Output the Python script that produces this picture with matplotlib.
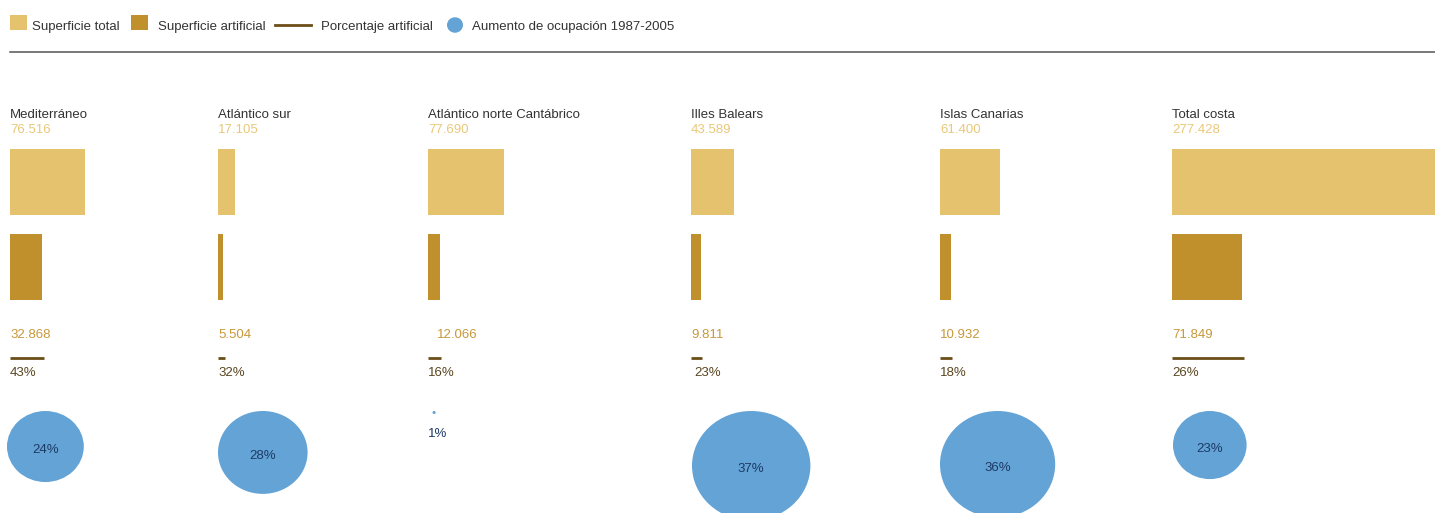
import numpy as np
import matplotlib
matplotlib.use("Agg")
import matplotlib.pyplot as plt
from matplotlib.patches import Ellipse, Rectangle

plt.rcParams['font.family'] = ['Liberation Sans', 'DejaVu Sans']

# Datos (ha)
zonas = ["Mediterráneo", "Atlántico sur", "Atlántico norte Cantábrico",
         "Illes Balears", "Islas Canarias", "Total costa"]
sup_total = np.array([76516, 17105, 77690, 43589, 61400, 277428])
sup_artificial = np.array([32868, 5504, 12066, 9811, 10932, 71849])
pct_artificial = [43, 32, 16, 23, 18, 26]
aumento_ocupacion = np.array([24, 28, 1, 37, 36, 23])

# colores
c_total = '#e5c26d'
c_artif = '#c0902c'
c_linea = '#6b4d17'
c_circ = '#63a3d6'
c_texto = '#333333'

# posicion de cada bloque (px)
grupo_x = np.array([10, 218, 428, 691, 940, 1172])
px_por_ha = 0.976 / 1000     # ancho de barra
px_por_pct = 3.2             # diametro del circulo
ratio_v = 0.925              # los circulos estan algo aplastados

fs = 9.5

fig = plt.figure(figsize=(14.35, 5.13), dpi=100)
ax = fig.add_axes([0, 0, 1, 1])
ax.set_xlim(0, 1435)
ax.set_ylim(513, 0)
ax.axis('off')

# leyenda
ax.add_patch(Rectangle((10, 15), 16.5, 15, color=c_total, lw=0))
ax.text(32, 30, "Superficie total", fontsize=fs, color=c_texto, va='baseline')
ax.add_patch(Rectangle((131, 15), 16.5, 15, color=c_artif, lw=0))
ax.text(158, 30, "Superficie artificial", fontsize=fs, color=c_texto, va='baseline')
ax.plot([275, 311], [25, 25], color=c_linea, lw=2)
ax.text(321, 30, "Porcentaje artificial", fontsize=fs, color=c_texto, va='baseline')
ax.add_patch(Ellipse((455, 25), 16, 15.5, color=c_circ, lw=0))
ax.text(472, 30, "Aumento de ocupación 1987-2005", fontsize=fs, color=c_texto, va='baseline')

ax.plot([10, 1435], [51.5, 51.5], color='#555555', lw=1.1)

# barras
ax.barh(182, sup_total * px_por_ha, left=grupo_x, height=66, color=c_total, lw=0)
ax.barh(267, sup_artificial * px_por_ha, left=grupo_x, height=66, color=c_artif, lw=0)

# linea de porcentaje artificial (mismo largo que la barra artificial)
ax.hlines(np.full(len(zonas), 358), grupo_x, grupo_x + sup_artificial * px_por_ha + 1.5,
          color=c_linea, lw=2, capstyle='butt')

# pequeños desplazamientos del original
dx_artif = [0, 0, 9, 0, 0, 0]
dx_pct = [0, 0, 0, 3, 0, 0]
dx_circ = [-3, 0, 4.5, 1, 0, 1]

for i, nombre in enumerate(zonas):
    x = grupo_x[i]
    ax.text(x, 117.5, nombre, fontsize=fs, color=c_texto, va='baseline')
    ax.text(x, 132.7, f"{sup_total[i]:,}".replace(",", "."), fontsize=fs,
            color='#e9c87a', va='baseline')
    ax.text(x + dx_artif[i], 337.5, f"{sup_artificial[i]:,}".replace(",", "."),
            fontsize=fs, color='#c8983a', va='baseline')
    ax.text(x + dx_pct[i], 375.5, f"{pct_artificial[i]}%", fontsize=fs,
            color='#5a4520', va='baseline')

    d = aumento_ocupacion[i] * px_por_pct
    h = d * ratio_v
    cx = x + dx_circ[i] + d / 2
    cy = 411 + h / 2
    ax.add_patch(Ellipse((cx, cy), d, h, color=c_circ, lw=0))
    if aumento_ocupacion[i] >= 5:
        ax.text(cx, cy + 6.5, f"{aumento_ocupacion[i]}%", fontsize=fs,
                color='#1d3a66', ha='center', va='baseline')
    else:
        ax.text(x, 437, f"{aumento_ocupacion[i]}%", fontsize=fs,
                color='#1d3a66', va='baseline')

fig.savefig("out.png", dpi=100)
